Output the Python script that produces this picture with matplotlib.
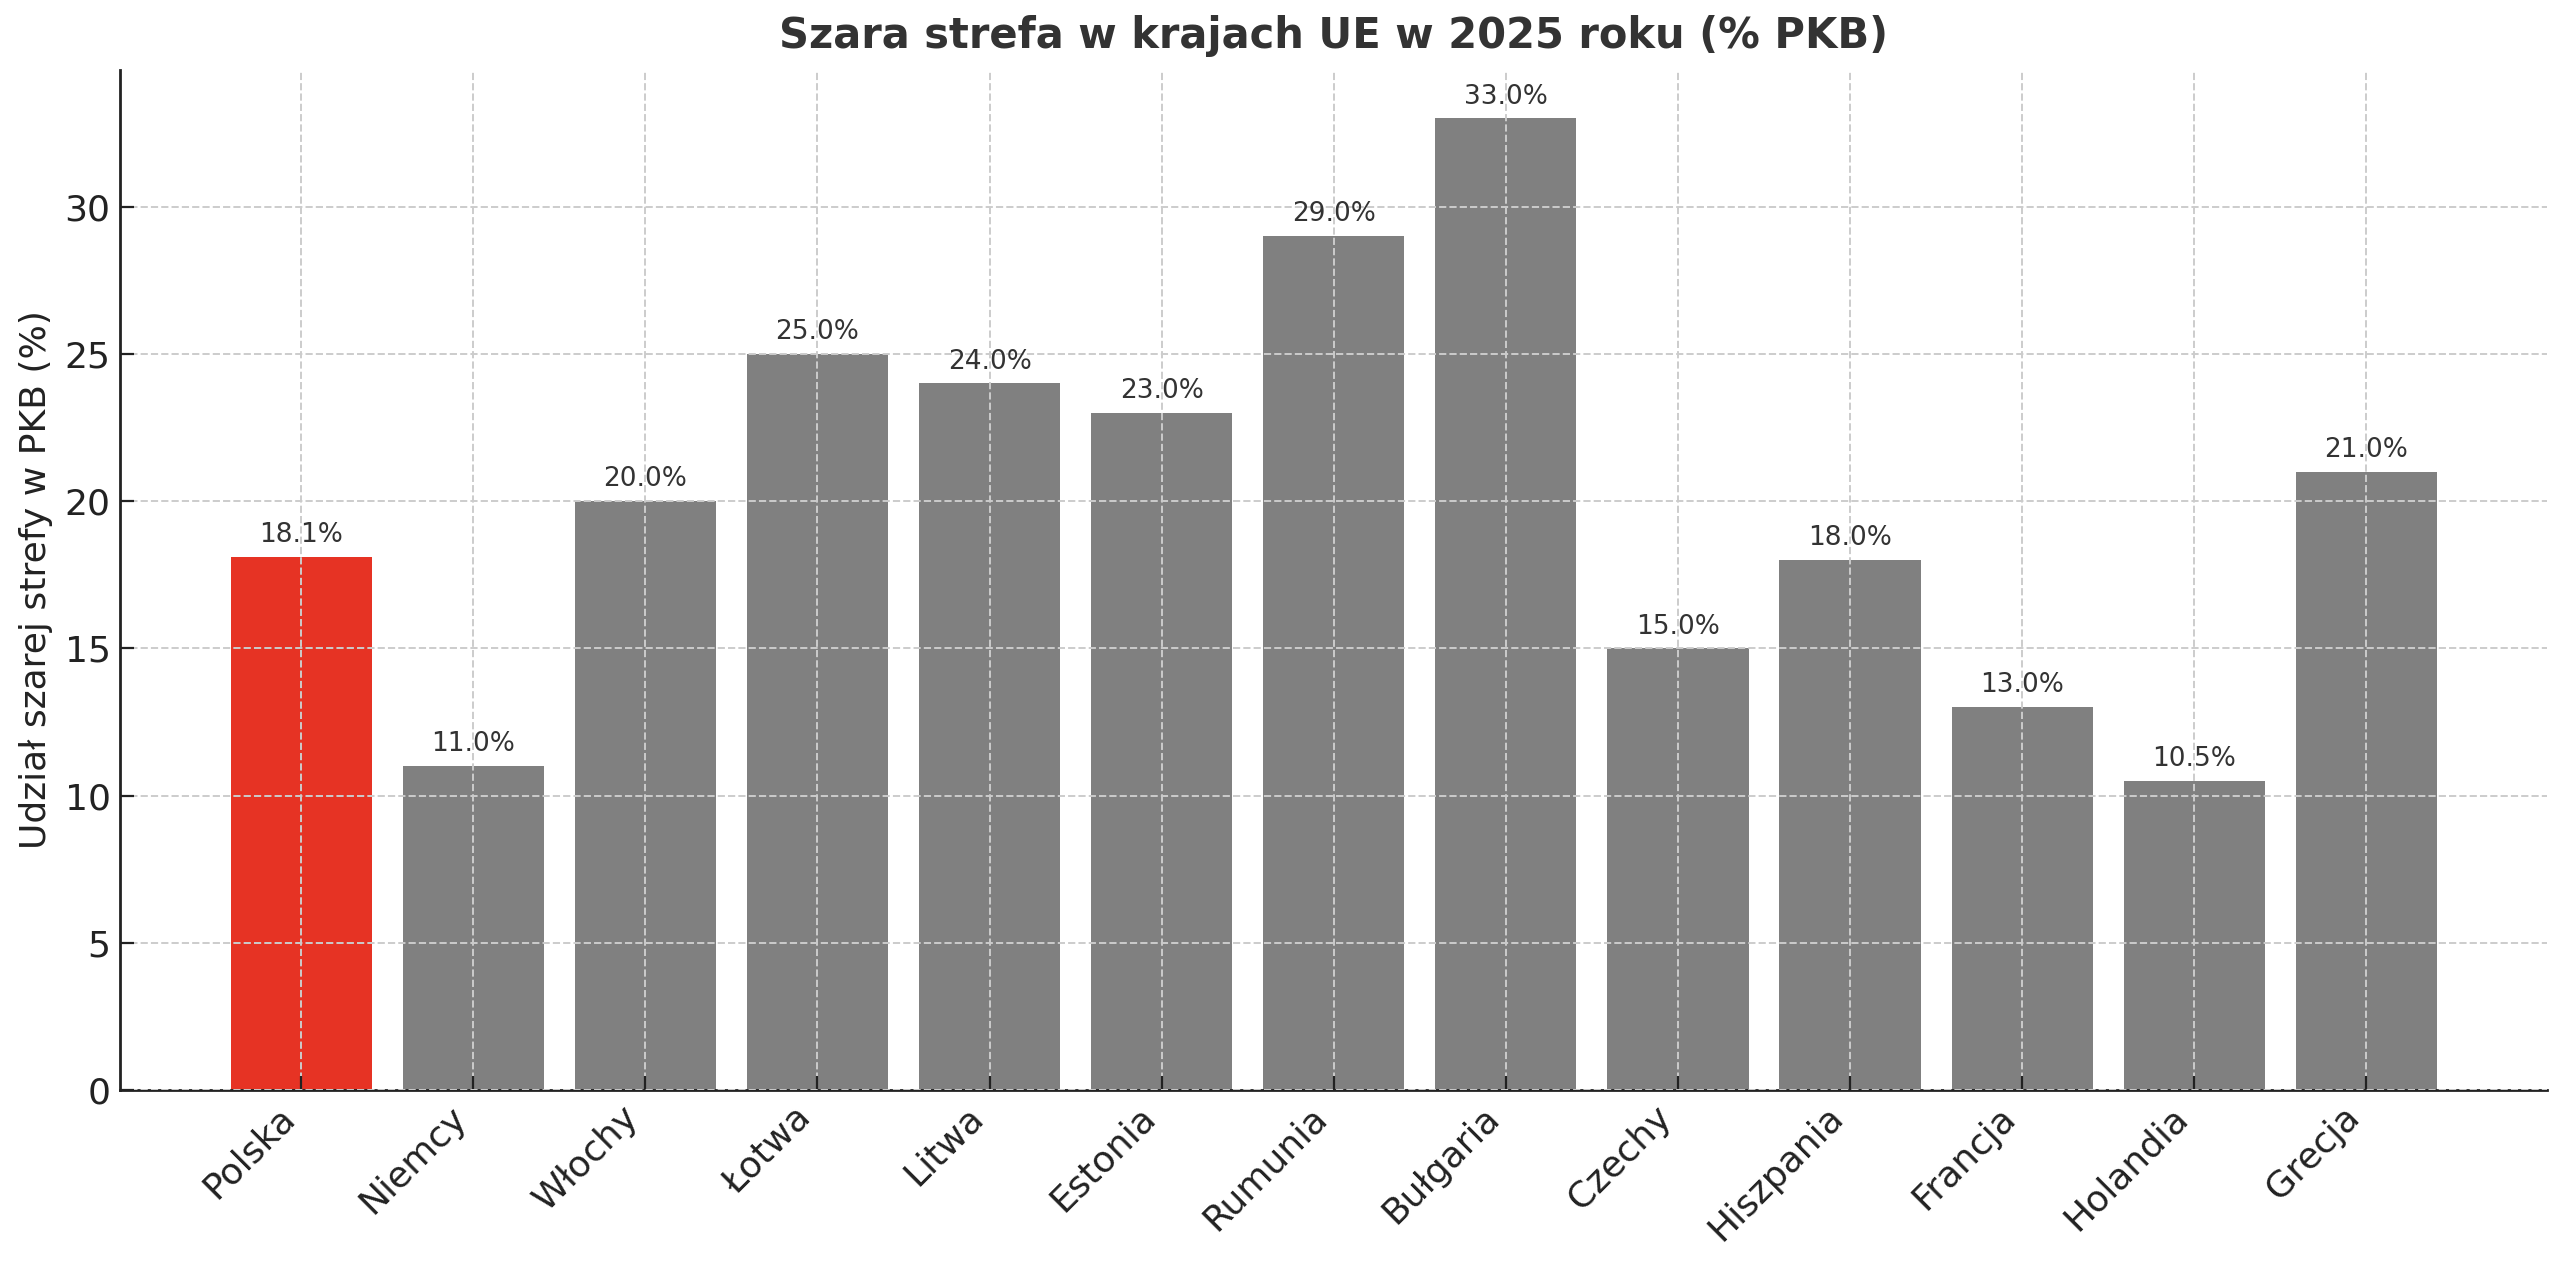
import matplotlib
matplotlib.use("Agg")
import matplotlib.pyplot as plt

# data
countries = ["Polska", "Niemcy", "Włochy", "Łotwa", "Litwa", "Estonia", "Rumunia",
             "Bułgaria", "Czechy", "Hiszpania", "Francja", "Holandia", "Grecja"]
shares = [18.1, 11.0, 20.0, 25.0, 24.0, 23.0, 29.0, 33.0, 15.0, 18.0, 13.0, 10.5, 21.0]
highlight = "Polska"

colors = ["#e63324" if c == highlight else "#808080" for c in countries]

fig = plt.figure(figsize=(12.8, 6.345), dpi=200)
ax = fig.add_axes([0.047, 0.141, 0.948, 0.804])

bars = ax.bar(countries, shares, color=colors, width=0.82, zorder=2)
ax.grid(True, linestyle="--", color="#cccccc", linewidth=0.7, zorder=3)
ax.set_axisbelow(False)

for b, v in zip(bars, shares):
    ax.text(b.get_x() + b.get_width() / 2, v + 0.3, f"{v:.1f}%",
            ha="center", va="bottom", fontsize=9.5, color="#333333", zorder=4)

ax.set_title("Szara strefa w krajach UE w 2025 roku (% PKB)", fontsize=15,
             fontweight="bold", color="#333333", pad=8)
ax.set_ylabel("Udział szarej strefy w PKB (%)", fontsize=13, color="#222222")

ax.spines["top"].set_visible(False)
ax.spines["right"].set_visible(False)
for s in ("left", "bottom"):
    ax.spines[s].set_linewidth(1.0)
    ax.spines[s].set_color("#222222")

ax.tick_params(axis="both", direction="in", labelsize=13, colors="#222222",
               length=5, width=0.8)
plt.setp(ax.get_xticklabels(), rotation=45, ha="right", rotation_mode="default")

fig.savefig("out.png", dpi=200)
